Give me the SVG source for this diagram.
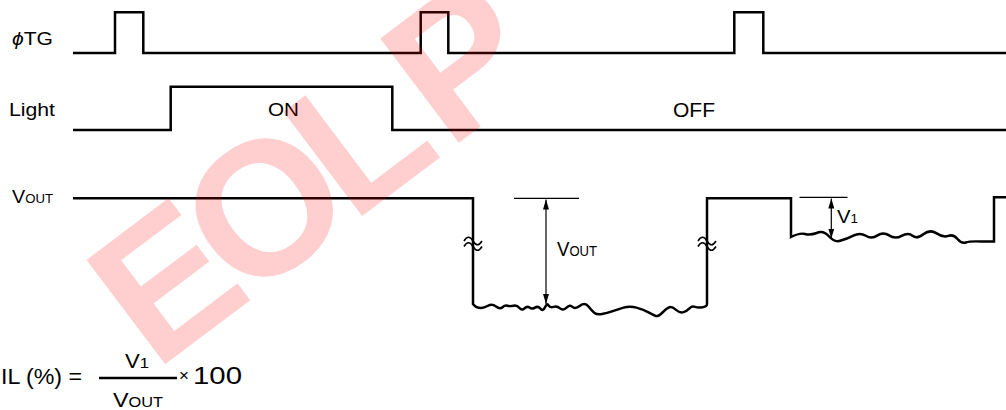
<svg xmlns="http://www.w3.org/2000/svg" width="1006" height="410" viewBox="0 0 1006 410">
<style>
.sig{fill:none;stroke:#000;stroke-width:2.5;stroke-linejoin:miter}
.dim{fill:none;stroke:#000;stroke-width:1.2}
.brk{fill:none;stroke:#000;stroke-width:1.6}
.t{font-family:"Liberation Sans",Arial,sans-serif;fill:#000}
.wm{font-family:"Liberation Sans",Arial,sans-serif;font-weight:bold;fill:#ff0000;fill-opacity:0.19}
</style>
<defs>
<marker id="ah" viewBox="0 0 10 6" refX="10" refY="3" markerWidth="10" markerHeight="6" markerUnits="userSpaceOnUse" orient="auto-start-reverse">
<path d="M0,0 L10,3 L0,6 Z" fill="#000"/>
</marker>
</defs>
<rect width="1006" height="410" fill="#fff"/>

<g id="label-tg"><text class="t" x="12" y="45" font-size="18" textLength="41" lengthAdjust="spacingAndGlyphs"><tspan font-style="italic">ϕ</tspan>TG</text></g>
<g id="label-light"><text class="t" x="9" y="116" font-size="19" textLength="46" lengthAdjust="spacingAndGlyphs">Light</text></g>
<g id="label-vout"><text class="t" x="12" y="203" font-size="18" textLength="41" lengthAdjust="spacingAndGlyphs">V<tspan font-size="12">OUT</tspan></text></g>

<g id="sig-tg"><path class="sig" d="M73,53 H115 V12.3 H143.3 V53 H420.7 V12.3 H448.3 V53 H734.3 V12.3 H763.3 V53 H1006"/></g>

<g id="sig-light">
<path class="sig" d="M73,130 H170.7 V86.7 H392.3 V130 H1006"/>
<text class="t" x="268" y="115.5" font-size="18.5" textLength="31" lengthAdjust="spacingAndGlyphs">ON</text>
<text class="t" x="673" y="117" font-size="19.5" textLength="42" lengthAdjust="spacingAndGlyphs">OFF</text>
</g>

<g id="sig-vout">
<path class="sig" d="M73,198.3 H473 V304 Q476,308 481,308 Q484,308 488,305.75 Q492,303.5 496,306.5 Q500,309.5 502.5,307.25 Q505,305 507.5,305.75 Q510,306.5 513.5,305.75 Q517,305 519.5,308 Q522,311 524.5,308.4 Q527,305.75 529.5,307.6 Q532,309.5 535,307.6 Q538,305.75 540.5,308.75 Q543,311.75 545,307.25 Q547,302.75 548.5,305.4 Q550,308 553.5,306.9 Q557,305.75 560,308.4 Q563,311 566.5,307.6 Q570,304.25 572.5,306.9 Q575,309.5 580,305.75 Q585,302 588.5,306.5 Q592,311 594.5,312.9 Q597,314.75 602,314 Q607,313.25 612,311.4 Q617,309.5 623.5,307.6 Q630,305.75 636.5,307.6 Q643,309.5 648,312.1 Q653,314.75 655.5,315.9 Q658,317 662.5,312.5 Q667,308 669.5,307.25 Q672,306.5 676,309.9 Q680,313.25 683.5,312.1 Q687,311 689.5,308.4 Q692,305.75 695,306.9 Q698,308 702.5,307.25 Q707,306.5 707,304 V198.3 H791 V237 Q800,232.5 805,234 Q810,235.5 816.65,233 Q823.3,230 829.15,236.5 Q835,243 840.85,240.5 Q846.7,239 853.35,235.6 Q860,232.2 865.85,235.8 Q871.7,239.4 877.5,235.4 Q883.3,231.4 889.15,235.4 Q895,239.4 901.65,235.8 Q908.3,232.2 912.5,235.8 Q916.7,239.4 923.35,234.2 Q930,229 936.65,233.4 Q943.3,237.8 948.3,235.9 Q953.3,234 957.5,239 Q961.7,244 965.85,242.5 Q970,241 981,241.5 L994,241.5 V197.3 H1006"/>
<path class="brk" d="M464,241 c3,-5 6,-5 9,0 s6,5 9,0 M464,246.5 c3,-5 6,-5 9,0 s6,5 9,0"/>
<path class="brk" d="M698,241 c3,-5 6,-5 9,0 s6,5 9,0 M698,246.5 c3,-5 6,-5 9,0 s6,5 9,0"/>
</g>

<g id="connectors">
<line class="dim" x1="514" y1="198.3" x2="579" y2="198.3"/>
<line class="dim" x1="546" y1="199.5" x2="546" y2="304" marker-start="url(#ah)" marker-end="url(#ah)"/>
<line class="dim" x1="799.5" y1="197.3" x2="847.5" y2="197.3"/>
<line class="dim" x1="831.3" y1="198.5" x2="831.3" y2="238.5" marker-start="url(#ah)" marker-end="url(#ah)"/>
</g>

<g id="label-vout-dim"><text class="t" x="557" y="256" font-size="20" textLength="40" lengthAdjust="spacingAndGlyphs">V<tspan font-size="14">OUT</tspan></text></g>
<g id="label-v1-dim"><text class="t" x="837" y="222.7" font-size="18" textLength="21" lengthAdjust="spacingAndGlyphs">V<tspan font-size="12">1</tspan></text></g>

<g id="formula">
<text class="t" x="1" y="384" font-size="22" textLength="81" lengthAdjust="spacingAndGlyphs">IL (%) =</text>
<text class="t" x="125" y="367.7" font-size="20" textLength="24" lengthAdjust="spacingAndGlyphs">V<tspan font-size="15">1</tspan></text>
<line x1="99" y1="378" x2="177" y2="378" stroke="#000" stroke-width="2.5"/>
<text class="t" x="113" y="407" font-size="20" textLength="50" lengthAdjust="spacingAndGlyphs">V<tspan font-size="14">OUT</tspan></text>
<text class="t" x="179" y="381" font-size="17">×</text>
<text class="t" x="193" y="384" font-size="24" textLength="49" lengthAdjust="spacingAndGlyphs">100</text>
</g>

<g id="watermark"><text class="wm" x="155" y="372" font-size="190" letter-spacing="-14" word-spacing="-16" transform="rotate(-37 155 372)">EOL P</text></g>
</svg>
